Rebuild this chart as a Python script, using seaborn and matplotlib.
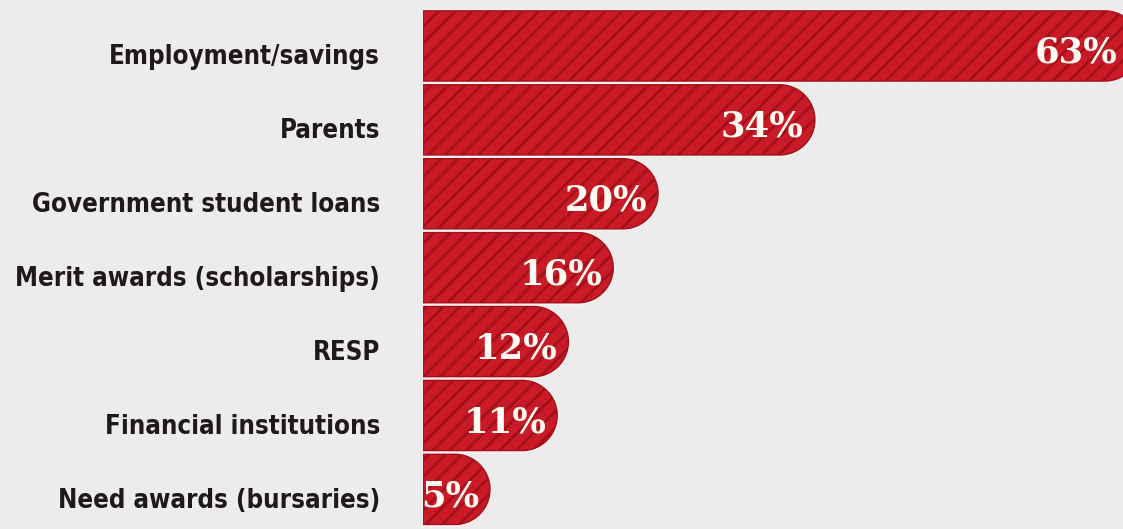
import numpy as np
import pandas as pd
import matplotlib
matplotlib.use("Agg")
import matplotlib.pyplot as plt
from matplotlib import font_manager
from matplotlib.path import Path
from matplotlib.patches import PathPatch
from matplotlib.transforms import ScaledTranslation
import seaborn as sns

# Where students' money for school comes from (share of respondents, %)
sources = [
    "Employment/savings",
    "Parents",
    "Government student loans",
    "Merit awards (scholarships)",
    "RESP",
    "Financial institutions",
    "Need awards (bursaries)",
]
shares = [63, 34, 20, 16, 12, 11, 5]

BG = "#edebec"
RED = "#c91b27"
STRIPE = "#a3101a"
RIM = "#fbf2f2"
INK = "#1e1a1b"
NUM = "#fffaf2"

sns.set_theme(style="white")

# prefer a narrow sans for the category names, fall back to Roboto
narrow = None
for f in font_manager.fontManager.ttflist:
    stretch = str(f.stretch).lower()
    if ("narrow" in f.name.lower() or "condensed" in f.name.lower()
            or "condensed" in stretch):
        narrow = f
        if str(f.weight) in ("bold", "700", "600", "semibold"):
            break
if narrow is not None:
    label_font = dict(family=narrow.name, stretch=narrow.stretch)
else:
    label_font = dict(family="Roboto")
plt.rcParams["hatch.linewidth"] = 1.9

fig = plt.figure(figsize=(11.23, 5.29), dpi=100, facecolor=BG)
ax = fig.add_axes([423 / 1123, 0, 700 / 1123, 1], facecolor=BG)

df = pd.DataFrame({"source": sources, "share": shares})
sns.barplot(data=df, x="share", y="source", orient="h", width=0.95,
            color=RED, ax=ax)

ax.set_xlim(-0.98, 61.5)
ax.set_ylim(6.536, -0.622)

# pixel scale of each axis, used to give the bar ends a circular cap
px_x = ax.transData.transform((1, 0))[0] - ax.transData.transform((0, 0))[0]
px_y = abs(ax.transData.transform((0, 1))[1] - ax.transData.transform((0, 0))[1])
x_start, x_end = ax.get_xlim()

theta = np.linspace(-np.pi / 2, np.pi / 2, 90)
for bar in list(ax.patches):
    y0 = bar.get_y()
    h = bar.get_height()
    value = bar.get_x() + bar.get_width()
    bar.set_visible(False)

    ry = h / 2
    rx = ry * px_y / px_x
    yc = y0 + ry
    xc = max(value - rx, x_start)
    arc = np.column_stack([xc + rx * np.cos(theta), yc + ry * np.sin(theta)])
    verts = np.vstack([[x_start, y0], arc, [x_start, y0 + h], [x_start, y0]])
    shape = Path(verts, closed=True)

    ax.add_patch(PathPatch(shape, facecolor="none", edgecolor=RIM, lw=3.0,
                           zorder=1.9))
    ax.add_patch(PathPatch(shape, facecolor=RED, edgecolor=STRIPE, hatch="//",
                           lw=1.0, zorder=2))

    # keep the number inside the visible part of a bar that runs off the edge
    anchor = min(value, x_end - 0.2)
    pad = -8 if value < x_end else -2
    ax.annotate(f"{value:g}%", xy=(anchor, yc), xytext=(pad, -5),
                textcoords="offset points", ha="right", va="center",
                color=NUM, fontsize=25.5, fontweight="bold",
                family="DejaVu Serif", zorder=3, annotation_clip=False)

ax.set_xticks([])
ax.set_xlabel("")
ax.set_ylabel("")
ax.tick_params(axis="y", length=0, pad=31)
shift = ScaledTranslation(0, -6 / 72, fig.dpi_scale_trans)
labels = ax.get_yticklabels()
for lab in labels:
    lab.set_fontproperties(font_manager.FontProperties(
        weight="bold", size=22.5, **label_font))
    lab.set_color(INK)
    lab.set_transform(lab.get_transform() + shift)
for s in ax.spines.values():
    s.set_visible(False)

# fit the longest category name into the space left of the bars
renderer = fig.canvas.get_renderer()
widest = max(lab.get_window_extent(renderer).width for lab in labels)
size = min(22.5, 22.5 * 366 / widest)
for lab in labels:
    lab.set_fontsize(size)

fig.savefig("out.png", dpi=100, facecolor=BG)
